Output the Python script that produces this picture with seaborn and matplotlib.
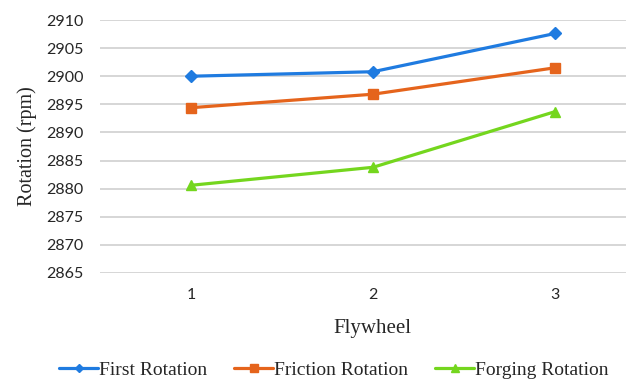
import matplotlib
matplotlib.use("Agg")
import matplotlib.pyplot as plt
from matplotlib.lines import Line2D
import seaborn as sns
import pandas as pd

flywheel = [1, 2, 3]
first_rotation = [2900.0, 2900.8, 2907.6]
friction_rotation = [2894.4, 2896.8, 2901.5]
forging_rotation = [2880.6, 2883.8, 2893.7]
series_names = ["First Rotation", "Friction Rotation", "Forging Rotation"]
y_ticks = [2865, 2870, 2875, 2880, 2885, 2890, 2895, 2900, 2905, 2910]

df = pd.DataFrame({
    "Flywheel": flywheel * 3,
    "rpm": first_rotation + friction_rotation + forging_rotation,
    "series": [s for s in series_names for _ in flywheel],
})

sns.set_style("white")
plt.rcParams["font.family"] = ["DejaVu Sans"]

colors = ["#1F7BE0", "#E5641C", "#74D61E"]
markers = ["D", "s", "^"]
marker_sizes = [6.0, 7.0, 7.5]

fig = plt.figure(figsize=(6.26, 3.82), dpi=100)
ax = fig.add_axes([100 / 626, 1 - 273 / 382, 546 / 626, 253 / 382])

sns.lineplot(data=df, x="Flywheel", y="rpm", hue="series", style="series",
             palette=colors, markers=markers, dashes=False,
             linewidth=2.3, ax=ax, legend=False)
for line, c, ms in zip(ax.lines, colors, marker_sizes):
    line.set_markeredgecolor(c)
    line.set_markersize(ms)
    line.set_markeredgewidth(1.0)

ax.set_xlim(0.5, 3.5)
ax.set_ylim(2865, 2910)
ax.set_yticks(y_ticks)
ax.set_xticks(flywheel)
ax.set_xticklabels([str(v) for v in flywheel])
ax.grid(axis="y", color="#CFCFCF", linewidth=1.2)
ax.set_axisbelow(True)
for s in ax.spines.values():
    s.set_visible(False)
ax.tick_params(axis="y", length=0, labelsize=11.5, colors="#262626", pad=12)
ax.tick_params(axis="x", length=0, labelsize=11.5, colors="#262626", pad=11)
for lab in ax.get_xticklabels() + ax.get_yticklabels():
    lab.set_family("Lato")

serif = "Liberation Serif"
ax.set_ylabel("Rotation (rpm)", family=serif, fontsize=14.5)
ax.yaxis.set_label_coords(-(100 - 37) / 546, 0.5)
ax.set_xlabel("")
fig.text(372 / 626, 1 - 328 / 382, "Flywheel", family=serif, fontsize=15,
         ha="center", va="center")

handles = [Line2D([], [], color=c, marker=m, markersize=ms - 1.5, linewidth=2.3,
                  markeredgecolor=c)
           for c, m, ms in zip(colors, markers, marker_sizes)]
fig.legend(handles, series_names, loc="center", bbox_to_anchor=(334 / 626, 1 - 370 / 382),
           ncol=3, frameon=False, prop={"family": serif, "size": 14},
           handlelength=2.0, handletextpad=0.05, columnspacing=1.4)

fig.savefig("out.png", dpi=100)
